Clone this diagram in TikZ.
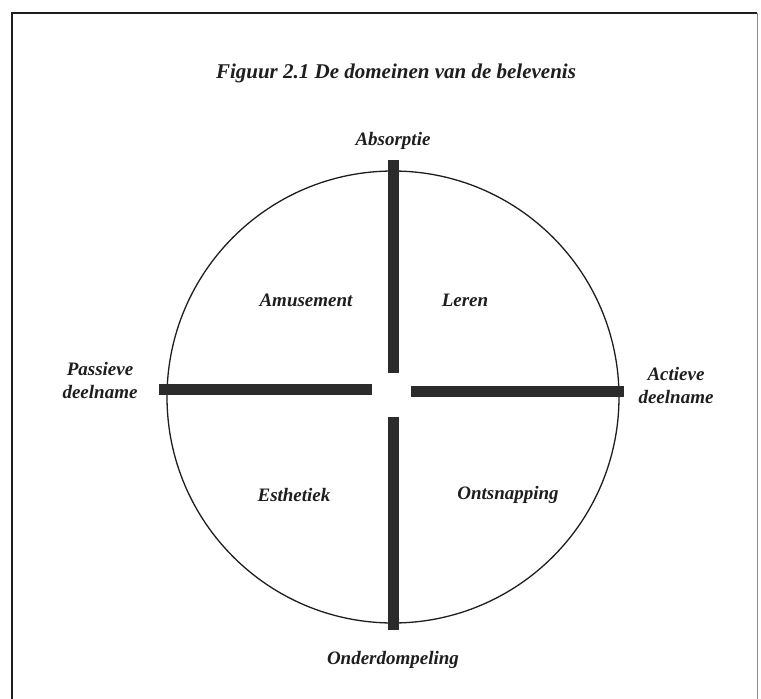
\documentclass[tikz,border=0pt]{standalone}
\usepackage{fontspec}
\setmainfont{Liberation Serif}
\definecolor{ink}{HTML}{1E1E1E}
\definecolor{barc}{HTML}{2B2B2B}
\begin{document}
\begin{tikzpicture}[x=1pt,y=-1pt,
  lbl/.style={font=\fontsize{19}{23}\selectfont\bfseries\itshape, text=ink, inner sep=0pt, align=center},
  ttl/.style={font=\fontsize{21}{25}\selectfont\bfseries\itshape, text=ink, inner sep=0pt},
  bar/.style={line width=11pt, draw=barc, line cap=butt},
  frame/.style={line width=2pt, draw=ink}]
\useasboundingbox (0,0) rectangle (761,699);
\fill[white] (0,0) rectangle (761,699);
% frame
\draw[frame] (12,699) -- (12,13) -- (757,13);
\draw[line width=1pt, draw=black!45] (757,13) -- (757,699);
% circle
\node[circle, draw=ink, line width=1.3pt, minimum size=452pt, inner sep=0pt] (c) at (393,397) {};
% bars
\coordinate (lb1) at (159,389);
\coordinate (lb2) at (372,389);
\coordinate (rb1) at (411,391);
\coordinate (rb2) at (624,391);
\coordinate (tb1) at (393,160);
\coordinate (tb2) at (393,373);
\coordinate (bb1) at (393,417);
\coordinate (bb2) at (393,630);
\draw[bar] (lb1) -- (lb2);
\draw[bar] (rb1) -- (rb2);
\draw[bar] (tb1) -- (tb2);
\draw[bar] (bb1) -- (bb2);
% texts
\node[ttl] (title) at (396,73) {Figuur 2.1 De domeinen van de belevenis};
\node[lbl] (abs) at (393,141) {Absorptie};
\node[lbl] (ond) at (393,660) {Onderdompeling};
\node[lbl] (pas) at (100,381) {Passieve\\deelname};
\node[lbl] (act) at (676,386) {Actieve\\deelname};
\node[lbl] (amu) at (306,300) {Amusement};
\node[lbl] (ler) at (465,300) {Leren};
\node[lbl] (est) at (294,495) {Esthetiek};
\node[lbl] (ont) at (508,495) {Ontsnapping};
\end{tikzpicture}
\end{document}
